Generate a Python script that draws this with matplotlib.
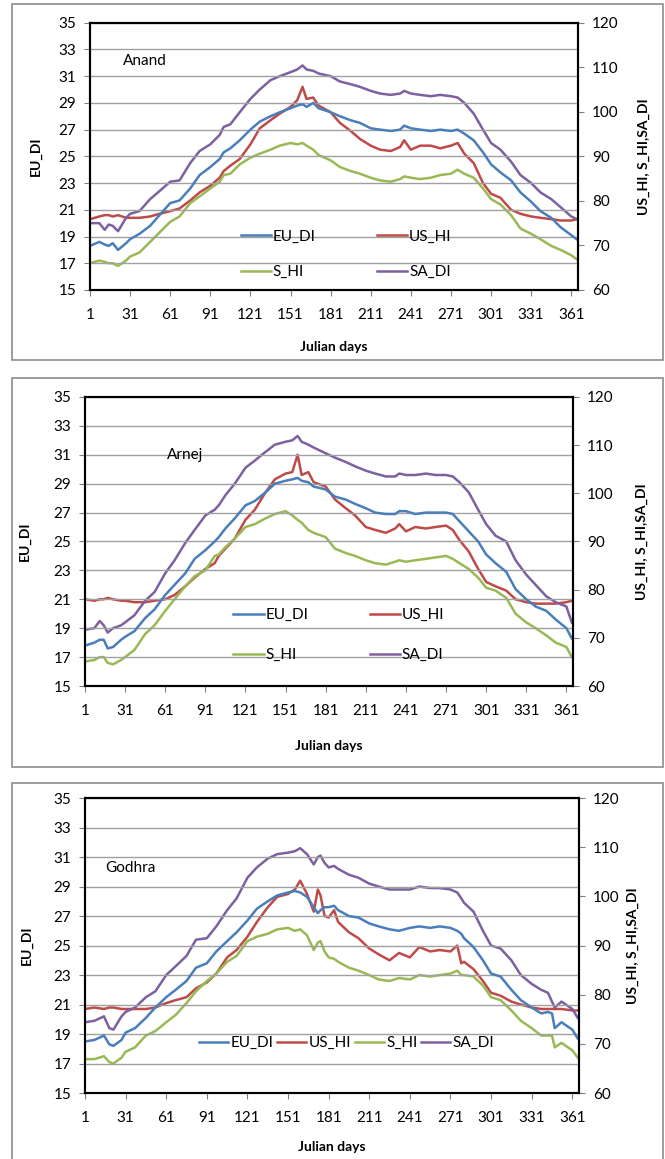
import numpy as np
from matplotlib import pyplot as plt
from matplotlib.patches import Rectangle

plt.rcParams['font.family'] = ['Lato', 'DejaVu Sans']

#%% Données lues sur les graphes (EU_DI sur l'axe de gauche, les trois autres sur l'axe de droite)

jours_anand = [1, 8, 12, 15, 18, 22, 28, 31, 38, 46, 53, 61, 68, 76, 83, 91, 98, 101, 106, 113,
               121, 128, 136, 143, 151, 156, 160, 163, 168, 172, 181, 188, 196, 203, 211, 218, 226, 233, 236, 241,
               248, 256, 263, 271, 276, 281, 288, 295, 301, 308, 316, 323, 331, 338, 346, 353, 361, 365]

eu_di_anand = [18.3, 18.6, 18.4, 18.3, 18.5, 18.0, 18.5, 18.8, 19.2, 19.8, 20.6, 21.5, 21.7, 22.6, 23.6, 24.2, 24.8, 25.3, 25.6, 26.2,
               27.0, 27.6, 28.0, 28.3, 28.6, 28.8, 28.9, 28.7, 29.0, 28.6, 28.3, 28.0, 27.7, 27.5, 27.1, 27.0, 26.9, 27.0, 27.3, 27.1,
               27.0, 26.9, 27.0, 26.9, 27.0, 26.7, 26.2, 25.3, 24.4, 23.8, 23.2, 22.3, 21.6, 20.9, 20.4, 19.7, 19.1, 18.8]
us_hi_anand = [75.9, 76.5, 76.8, 76.8, 76.5, 76.8, 76.2, 76.2, 76.2, 76.5, 77.1, 77.7, 78.3, 80.1, 81.9, 83.4, 85.2, 86.7, 87.9, 89.4,
               92.7, 96.3, 98.1, 99.6, 101.1, 102.6, 105.6, 102.9, 103.2, 101.4, 99.9, 97.5, 95.7, 93.9, 92.4, 91.5, 91.2, 92.1, 93.6, 91.5,
               92.4, 92.4, 91.8, 92.4, 93.0, 90.6, 88.5, 84.0, 81.6, 80.7, 78.0, 77.1, 76.5, 76.2, 75.9, 75.6, 75.6, 75.9]
s_hi_anand = [66.0, 66.6, 66.3, 66.0, 66.0, 65.4, 66.6, 67.5, 68.4, 70.8, 72.9, 75.3, 76.5, 79.5, 81.0, 82.8, 84.3, 85.8, 86.1, 88.2,
              89.7, 90.6, 91.5, 92.4, 93.0, 92.7, 93.0, 92.4, 91.5, 90.3, 89.1, 87.6, 86.7, 86.1, 85.2, 84.6, 84.3, 84.9, 85.5, 85.2,
              84.9, 85.2, 85.8, 86.1, 87.0, 86.1, 85.2, 82.8, 80.4, 79.2, 76.8, 73.8, 72.6, 71.4, 69.9, 69.0, 67.8, 66.9]
sa_di_anand = [75.0, 75.0, 73.5, 74.7, 74.4, 73.2, 76.2, 77.1, 77.7, 80.4, 82.2, 84.3, 84.6, 88.5, 91.2, 92.7, 94.8, 96.6, 97.2, 99.9,
               102.9, 105.0, 107.1, 108.0, 108.9, 109.5, 110.4, 109.5, 109.2, 108.6, 108.0, 106.8, 106.2, 105.6, 104.7, 104.1, 103.8, 104.1, 104.7, 104.1,
               103.8, 103.5, 103.8, 103.5, 103.2, 102.0, 99.6, 96.0, 93.0, 91.5, 88.8, 85.8, 84.0, 81.9, 80.4, 78.6, 76.5, 75.9]

jours_arnej = jours_anand

eu_di_arnej = [17.8, 18.0, 18.2, 18.2, 17.6, 17.7, 18.2, 18.4, 18.8, 19.7, 20.3, 21.3, 22.0, 22.8, 23.8, 24.4, 25.0, 25.3, 25.9, 26.6,
               27.5, 27.8, 28.4, 29.0, 29.2, 29.3, 29.4, 29.2, 29.1, 28.8, 28.6, 28.1, 27.9, 27.6, 27.3, 27.0, 26.9, 26.9, 27.1, 27.1,
               26.9, 27.0, 27.0, 27.0, 26.9, 26.4, 25.7, 25.0, 24.1, 23.5, 22.9, 21.7, 21.0, 20.5, 20.2, 19.6, 19.0, 18.3]
us_hi_arnej = [78.0, 77.7, 78.0, 78.0, 78.3, 78.0, 77.7, 77.7, 77.4, 77.4, 77.7, 78.0, 78.9, 80.7, 82.5, 84.3, 85.5, 87.0, 88.5, 90.6,
               94.5, 96.6, 100.2, 102.9, 104.1, 104.4, 108.0, 103.8, 104.4, 102.3, 101.4, 98.7, 96.9, 95.4, 93.0, 92.4, 91.8, 92.7, 93.6, 92.1,
               93.0, 92.7, 93.0, 93.3, 92.4, 90.3, 87.9, 84.3, 81.6, 80.7, 79.8, 78.0, 77.4, 77.1, 77.1, 77.1, 77.4, 77.7]
s_hi_arnej = [65.1, 65.4, 66.0, 66.0, 64.8, 64.5, 65.4, 66.0, 67.5, 70.8, 72.6, 75.6, 78.0, 80.7, 82.8, 84.0, 87.0, 87.3, 88.8, 90.6,
              93.0, 93.6, 94.8, 95.7, 96.3, 95.4, 94.5, 93.9, 92.4, 91.8, 90.9, 88.5, 87.6, 87.0, 86.1, 85.5, 85.2, 85.8, 86.1, 85.8,
              86.1, 86.4, 86.7, 87.0, 86.4, 85.5, 84.3, 82.5, 80.4, 79.8, 78.3, 75.0, 73.2, 72.0, 70.5, 69.0, 68.1, 66.0]
sa_di_arnej = [71.7, 72.0, 73.5, 72.6, 71.1, 72.0, 72.6, 73.2, 74.7, 77.7, 79.5, 83.4, 86.1, 89.7, 92.4, 95.4, 96.6, 97.5, 99.6, 102.0,
               105.3, 106.8, 108.6, 110.1, 110.7, 111.0, 111.9, 110.7, 110.1, 109.5, 108.3, 107.4, 106.5, 105.6, 104.7, 104.1, 103.5, 103.5, 104.1, 103.8,
               103.8, 104.1, 103.8, 103.8, 103.5, 102.3, 100.2, 96.6, 93.6, 91.2, 90.0, 86.1, 83.1, 81.0, 78.6, 77.4, 76.5, 73.2]

jours_godhra = [1, 8, 15, 19, 22, 28, 31, 38, 46, 53, 61, 68, 76, 83, 91, 98, 106, 113, 121, 128,
                136, 143, 151, 156, 160, 165, 170, 173, 175, 178, 181, 185, 188, 196, 203, 211, 218, 226, 233, 241,
                248, 256, 263, 271, 276, 279, 281, 288, 295, 301, 308, 316, 323, 331, 338, 343, 346, 348, 353, 361, 365]

eu_di_godhra = [18.5, 18.6, 18.9, 18.3, 18.2, 18.6, 19.1, 19.4, 20.1, 20.8, 21.5, 22.0, 22.6, 23.5, 23.8, 24.6, 25.3, 25.9, 26.7, 27.5,
                28.0, 28.4, 28.6, 28.7, 28.6, 28.3, 27.6, 27.2, 27.4, 27.6, 27.6, 27.7, 27.4, 27.0, 26.9, 26.5, 26.3, 26.1, 26.0, 26.2,
                26.3, 26.2, 26.3, 26.2, 26.0, 25.8, 25.5, 24.9, 24.0, 23.1, 22.9, 22.0, 21.3, 20.8, 20.4, 20.5, 20.4, 19.4, 19.8, 19.3, 18.7]
us_hi_godhra = [77.1, 77.4, 77.1, 77.4, 77.4, 77.1, 77.1, 77.1, 77.1, 77.4, 78.3, 78.9, 79.5, 81.3, 82.5, 84.3, 87.6, 89.1, 91.8, 94.8,
                97.8, 99.9, 100.5, 101.4, 103.2, 100.5, 96.9, 101.4, 100.2, 96.0, 95.7, 97.2, 94.8, 92.7, 91.5, 89.4, 88.2, 87.0, 88.5, 87.6,
                89.7, 88.8, 89.1, 88.8, 90.0, 86.4, 86.7, 85.2, 82.8, 80.4, 79.8, 78.6, 78.0, 77.4, 77.1, 77.1, 77.1, 77.1, 77.1, 76.8, 76.8]
s_hi_godhra = [66.9, 66.9, 67.5, 66.3, 66.0, 67.2, 68.4, 69.3, 71.7, 72.6, 74.4, 75.9, 78.3, 80.7, 82.8, 84.3, 86.7, 87.9, 90.9, 91.8,
               92.4, 93.3, 93.6, 93.0, 93.3, 92.1, 89.1, 90.6, 90.9, 88.8, 87.6, 87.3, 86.7, 85.5, 84.9, 84.0, 83.1, 82.8, 83.4, 83.1,
               84.0, 83.7, 84.0, 84.3, 84.9, 84.0, 84.0, 83.7, 81.9, 79.5, 78.9, 76.8, 74.7, 73.2, 71.7, 71.7, 71.7, 69.3, 70.2, 68.7, 67.2]
sa_di_godhra = [74.4, 74.7, 75.6, 73.2, 72.9, 75.6, 76.5, 77.4, 79.5, 80.7, 84.0, 85.8, 87.9, 91.2, 91.5, 93.9, 97.2, 99.6, 103.8, 105.9,
                107.7, 108.6, 108.9, 109.2, 109.8, 108.6, 106.5, 108.0, 108.3, 106.8, 105.9, 106.2, 105.6, 104.4, 103.8, 102.6, 102.0, 101.4, 101.4, 101.4,
                102.0, 101.7, 101.7, 101.4, 100.8, 99.6, 98.7, 96.9, 93.0, 90.0, 89.4, 87.0, 84.0, 82.2, 81.0, 80.4, 78.6, 77.4, 78.6, 77.1, 75.3]

ticks_jours = np.arange(1, 362, 30)

#%% Tracé d'un graphe

def Graphe(fig, pos, jours, eu, us, s, sa, station, pos_station, pos_leg, ncol_leg, x_lab_g, esp_leg, y_lab_x):
    ax = fig.add_axes(pos)
    ax2 = ax.twinx()
    ax.set_zorder(ax2.get_zorder() + 1)     # EU_DI au-dessus
    ax.patch.set_visible(False)

    l1, = ax.plot(jours, eu, color='#4a7ebb', lw=1.8, label='EU_DI')
    l2, = ax2.plot(jours, us, color='#be4b48', lw=1.8, label='US_HI')
    l3, = ax2.plot(jours, s, color='#98b954', lw=1.8, label='S_HI')
    l4, = ax2.plot(jours, sa, color='#7d60a0', lw=1.8, label='SA_DI')

    ax.set_xlim(1, 366)
    ax.set_ylim(15, 35)
    ax2.set_ylim(60, 120)
    ax.set_xticks(ticks_jours)
    ax.set_yticks(np.arange(15, 36, 2))
    ax2.set_yticks(np.arange(60, 121, 10))
    ax.grid(axis='y', color='#a0a0a0', lw=1)
    ax.set_axisbelow(True)

    for a in (ax, ax2):
        a.tick_params(labelsize=11, length=4, width=0.8, color='#808080')
        for sp in a.spines.values():
            sp.set_linewidth(1.5)
    ax.tick_params(axis='x', pad=9)
    ax.tick_params(axis='y', pad=6)
    ax2.tick_params(axis='y', pad=6)

    ax.set_ylabel('EU_DI', fontsize=10, fontweight='bold')
    ax2.set_ylabel('US_HI, S_HI,SA_DI', fontsize=10, fontweight='bold')
    ax.set_xlabel('Julian days', fontsize=10, fontweight='bold')
    ax.yaxis.set_label_coords(y_lab_x[0], 0.5)
    ax2.yaxis.set_label_coords(y_lab_x[1], 0.5)
    ax.xaxis.set_label_coords(0.5, x_lab_g)

    ax.text(pos_station[0], pos_station[1], station, fontsize=11, va='center')

    if ncol_leg == 2:
        handles = [l1, l3, l2, l4]
        ax.legend(handles, [h.get_label() for h in handles], ncol=2, loc='center',
                  bbox_to_anchor=pos_leg, frameon=False, fontsize=11, handlelength=2.0,
                  handletextpad=0.1, columnspacing=4.0, labelspacing=esp_leg)
    else:
        handles = [l1, l2, l3, l4]
        ax.legend(handles, [h.get_label() for h in handles], ncol=4, loc='center',
                  bbox_to_anchor=pos_leg, frameon=False, fontsize=11, handlelength=1.9,
                  handletextpad=0.15, columnspacing=0.25)
    return ax


#%% Figure

fig = plt.figure(figsize=(6.65, 11.59), dpi=100)

# cadres gris autour de chaque graphe
for (x0, y0, x1, y1) in [(12, 4, 663, 360), (12, 378, 663, 767), (12, 783, 663, 1165)]:
    fig.patches.append(Rectangle((x0 / 665, 1 - y1 / 1159), (x1 - x0) / 665, (y1 - y0) / 1159,
                                 transform=fig.transFigure, fill=False, edgecolor='#8c8c8c', lw=1.2))

Graphe(fig, [0.1353, 0.7498, 0.7338, 0.2306], jours_anand, eu_di_anand, us_hi_anand, s_hi_anand, sa_di_anand,
       'Anand', (26, 32.1), (0.525, 0.133), 2, -0.19, 1.4, (-0.098, 1.123))
Graphe(fig, [0.1278, 0.4081, 0.7340, 0.2494], jours_arnej, eu_di_arnej, us_hi_arnej, s_hi_arnej, sa_di_arnej,
       'Arnej', (62, 31.0), (0.52, 0.176), 2, -0.187, 1.7, (-0.11, 1.129))
Graphe(fig, [0.1278, 0.0569, 0.7430, 0.2545], jours_godhra, eu_di_godhra, us_hi_godhra, s_hi_godhra, sa_di_godhra,
       'Godhra', (16, 30.25), (0.53, 0.17), 4, -0.163, 0, (-0.105, 1.097))

plt.savefig('out.png', dpi=100)
